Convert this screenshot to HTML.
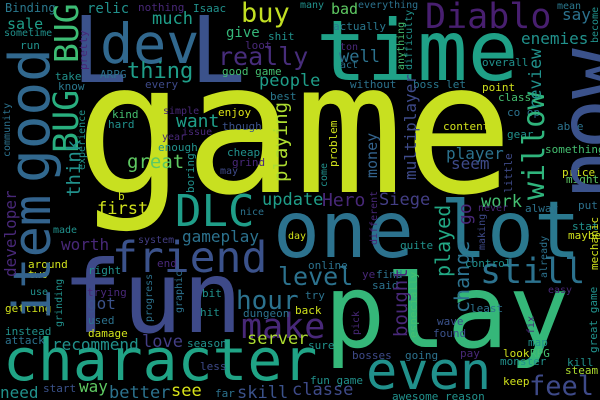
<!DOCTYPE html>
<html><head><meta charset="utf-8"><style>
html,body{margin:0;padding:0;background:#000;}
#cloud{position:relative;width:600px;height:400px;overflow:hidden;background:#000;}
#cloud span{position:absolute;line-height:1;white-space:nowrap;font-family:"DejaVu Sans Mono","Liberation Mono",monospace;}
#cloud span.v{transform:rotate(-90deg);transform-origin:0 0;}
</style></head><body>
<div id="cloud">
<span style="left:75px;top:38px;font-size:182px;color:#c8e020">game</span>
<span style="left:316px;top:9px;font-size:84px;color:#1fa187">time</span>
<span style="left:324px;top:262px;font-size:102px;color:#35b779">play</span>
<span style="left:62px;top:248px;font-size:100px;color:#3e4a89">fun</span>
<span style="left:273px;top:192px;font-size:78px;color:#2c728e">one</span>
<span style="left:440px;top:192px;font-size:78px;color:#2a788e">lot</span>
<span style="left:3px;top:331px;font-size:58px;color:#20a486">character</span>
<span style="left:366px;top:346px;font-size:52px;color:#21918c">even</span>
<span style="left:175px;top:190px;font-size:44px;color:#1f9e89">DLC</span>
<span style="left:112px;top:237px;font-size:43px;color:#3b528b">friend</span>
<span style="left:425px;top:0px;font-size:35px;color:#481f70">Diablo</span>
<span style="left:480px;top:255px;font-size:35px;color:#2c728e">still</span>
<span style="left:529px;top:373px;font-size:27px;color:#3e4a89">feel</span>
<span style="left:241px;top:310px;font-size:35px;color:#482878">make</span>
<span style="left:278px;top:264px;font-size:25px;color:#2c728e">level</span>
<span style="left:236px;top:288px;font-size:26px;color:#2c728e">hour</span>
<span style="left:100px;top:17px;font-size:55px;color:#31688e">dev</span>
<span style="left:72px;top:5px;font-size:92px;color:#3b528b">L</span>
<span style="left:190px;top:5px;font-size:92px;color:#3b528b">L</span>
<span style="left:218px;top:44px;font-size:25px;color:#472d7b">really</span>
<span style="left:127px;top:61px;font-size:22px;color:#1f9e89">thing</span>
<span style="left:241px;top:0px;font-size:27px;color:#c2df23">buy</span>
<span style="left:259px;top:73px;font-size:17px;color:#1f9e89">people</span>
<span style="left:152px;top:11px;font-size:17px;color:#1f9e89">much</span>
<span style="left:7px;top:17px;font-size:15px;color:#1f9e89">sale</span>
<span style="left:87px;top:2px;font-size:14px;color:#21918c">relic</span>
<span style="left:226px;top:26px;font-size:14px;color:#35b779">give</span>
<span style="left:176px;top:113px;font-size:18px;color:#1f9e89">want</span>
<span style="left:127px;top:153px;font-size:19px;color:#5ec962">great</span>
<span style="left:339px;top:49px;font-size:17px;color:#2c728e">well</span>
<span style="left:331px;top:2px;font-size:15px;color:#5ec962">bad</span>
<span style="left:521px;top:31px;font-size:16px;color:#21918c">enemies</span>
<span style="left:562px;top:7px;font-size:16px;color:#2c728e">say</span>
<span style="left:446px;top:146px;font-size:16px;color:#2c728e">player</span>
<span style="left:451px;top:156px;font-size:16px;color:#3e4a89">seem</span>
<span style="left:262px;top:192px;font-size:17px;color:#1f9e89">update</span>
<span style="left:322px;top:192px;font-size:18px;color:#482878">Hero</span>
<span style="left:379px;top:192px;font-size:17px;color:#433e85">Siege</span>
<span style="left:97px;top:201px;font-size:17px;color:#d0e11c">first</span>
<span style="left:481px;top:194px;font-size:17px;color:#44bf70">work</span>
<span style="left:182px;top:229px;font-size:16px;color:#2c728e">gameplay</span>
<span style="left:61px;top:237px;font-size:16px;color:#482878">worth</span>
<span style="left:87px;top:296px;font-size:16px;color:#3b528b">got</span>
<span style="left:52px;top:337px;font-size:16px;color:#21918c">recommend</span>
<span style="left:142px;top:334px;font-size:17px;color:#433e85">love</span>
<span style="left:247px;top:331px;font-size:17px;color:#addc30">server</span>
<span style="left:79px;top:379px;font-size:16px;color:#5ec962">way</span>
<span style="left:109px;top:385px;font-size:17px;color:#2c728e">better</span>
<span style="left:171px;top:383px;font-size:17px;color:#d8e219">see</span>
<span style="left:237px;top:385px;font-size:17px;color:#3b528b">skill</span>
<span style="left:292px;top:382px;font-size:17px;color:#3e4a89">classe</span>
<span style="left:0px;top:385px;font-size:16px;color:#21918c">need</span>

<span style="left:5px;top:2px;font-size:12px;color:#2a788e">Binding</span>
<span style="left:138px;top:2px;font-size:11px;color:#482878">nothing</span>
<span style="left:193px;top:3px;font-size:11px;color:#21918c">Isaac</span>
<span style="left:4px;top:29px;font-size:10px;color:#21918c">sometime</span>
<span style="left:20px;top:40px;font-size:11px;color:#21918c">run</span>
<span style="left:268px;top:31px;font-size:11px;color:#21918c">shit</span>
<span style="left:245px;top:40px;font-size:11px;color:#482878">loot</span>
<span style="left:55px;top:71px;font-size:11px;color:#21918c">take</span>
<span style="left:58px;top:81px;font-size:11px;color:#2a788e">know</span>
<span style="left:100px;top:69px;font-size:11px;color:#2c728e">ARPG</span>
<span style="left:145px;top:79px;font-size:11px;color:#3e4a89">every</span>
<span style="left:222px;top:66px;font-size:11px;color:#44bf70">good game</span>
<span style="left:270px;top:91px;font-size:11px;color:#2a788e">best</span>
<span style="left:112px;top:109px;font-size:11px;color:#44bf70">kind</span>
<span style="left:108px;top:119px;font-size:11px;color:#21918c">hard</span>
<span style="left:163px;top:107px;font-size:10px;color:#482878">simple</span>
<span style="left:218px;top:107px;font-size:11px;color:#dde318">enjoy</span>
<span style="left:222px;top:121px;font-size:11px;color:#3b528b">though</span>
<span style="left:182px;top:128px;font-size:10px;color:#482878">issue</span>
<span style="left:162px;top:133px;font-size:10px;color:#482878">year</span>
<span style="left:158px;top:142px;font-size:11px;color:#21918c">enough</span>
<span style="left:227px;top:147px;font-size:11px;color:#21918c">cheap</span>
<span style="left:232px;top:157px;font-size:11px;color:#482878">grind</span>
<span style="left:220px;top:167px;font-size:10px;color:#3e4a89">may</span>
<span style="left:118px;top:191px;font-size:11px;color:#d0e11c">b</span>
<span style="left:300px;top:1px;font-size:10px;color:#21918c">many</span>
<span style="left:358px;top:1px;font-size:10px;color:#2c728e">everything</span>
<span style="left:333px;top:21px;font-size:11px;color:#2a788e">actually</span>
<span style="left:340px;top:43px;font-size:10px;color:#482878">ton</span>
<span style="left:340px;top:61px;font-size:10px;color:#2c728e">act</span>
<span style="left:557px;top:2px;font-size:10px;color:#2a788e">mean</span>
<span style="left:350px;top:79px;font-size:11px;color:#2c728e">without</span>
<span style="left:413px;top:79px;font-size:11px;color:#2a788e">boss let</span>
<span style="left:482px;top:82px;font-size:11px;color:#d0e11c">point</span>
<span style="left:482px;top:57px;font-size:11px;color:#21918c">overall</span>
<span style="left:498px;top:92px;font-size:11px;color:#44bf70">class</span>
<span style="left:507px;top:107px;font-size:11px;color:#2c728e">co op</span>
<span style="left:443px;top:121px;font-size:11px;color:#d0e11c">content</span>
<span style="left:557px;top:121px;font-size:11px;color:#2c728e">able</span>
<span style="left:507px;top:129px;font-size:11px;color:#21918c">gear</span>
<span style="left:545px;top:144px;font-size:11px;color:#44bf70">something</span>
<span style="left:562px;top:167px;font-size:11px;color:#d0e11c">price</span>
<span style="left:566px;top:174px;font-size:11px;color:#5ec962">might</span>
<span style="left:478px;top:204px;font-size:10px;color:#482878">never</span>
<span style="left:240px;top:208px;font-size:10px;color:#2c728e">nice</span>
<span style="left:288px;top:232px;font-size:10px;color:#d0e11c">day</span>
<span style="left:138px;top:236px;font-size:10px;color:#433e85">system</span>
<span style="left:157px;top:258px;font-size:11px;color:#482878">end</span>
<span style="left:88px;top:265px;font-size:11px;color:#21918c">right</span>
<span style="left:308px;top:260px;font-size:11px;color:#2c728e">online</span>
<span style="left:28px;top:259px;font-size:11px;color:#d0e11c">around</span>
<span style="left:28px;top:269px;font-size:11px;color:#d0e11c">two</span>
<span style="left:53px;top:226px;font-size:10px;color:#21918c">made</span>
<span style="left:30px;top:288px;font-size:10px;color:#21918c">use</span>
<span style="left:87px;top:287px;font-size:11px;color:#482878">trying</span>
<span style="left:305px;top:290px;font-size:11px;color:#2c728e">try</span>
<span style="left:202px;top:288px;font-size:11px;color:#21918c">bit</span>
<span style="left:200px;top:307px;font-size:11px;color:#21918c">hit</span>
<span style="left:243px;top:308px;font-size:11px;color:#2c728e">dungeon</span>
<span style="left:295px;top:305px;font-size:11px;color:#d0e11c">back</span>
<span style="left:88px;top:315px;font-size:11px;color:#2c728e">used</span>
<span style="left:88px;top:328px;font-size:11px;color:#d0e11c">damage</span>
<span style="left:187px;top:338px;font-size:11px;color:#21918c">season</span>
<span style="left:308px;top:340px;font-size:11px;color:#21918c">sure</span>
<span style="left:5px;top:303px;font-size:11px;color:#d0e11c">getting</span>
<span style="left:5px;top:326px;font-size:11px;color:#21918c">instead</span>
<span style="left:5px;top:335px;font-size:11px;color:#2c728e">attack</span>
<span style="left:200px;top:361px;font-size:11px;color:#3e4a89">less</span>
<span style="left:310px;top:375px;font-size:11px;color:#21918c">fun game</span>
<span style="left:352px;top:350px;font-size:11px;color:#3e4a89">bosses</span>
<span style="left:405px;top:350px;font-size:11px;color:#2c728e">going</span>
<span style="left:215px;top:388px;font-size:11px;color:#2c728e">far</span>
<span style="left:43px;top:383px;font-size:11px;color:#3b528b">start</span>
<span style="left:465px;top:258px;font-size:11px;color:#21918c">control</span>
<span style="left:572px;top:221px;font-size:11px;color:#21918c">stat</span>
<span style="left:568px;top:230px;font-size:11px;color:#d0e11c">maybe</span>
<span style="left:578px;top:200px;font-size:11px;color:#2c728e">put</span>
<span style="left:525px;top:203px;font-size:11px;color:#2c728e">alway</span>
<span style="left:400px;top:240px;font-size:11px;color:#21918c">quite</span>
<span style="left:362px;top:269px;font-size:11px;color:#482878">ye</span>
<span style="left:376px;top:269px;font-size:11px;color:#2c728e">find</span>
<span style="left:372px;top:280px;font-size:11px;color:#2c728e">said</span>
<span style="left:548px;top:286px;font-size:10px;color:#482878">easy</span>
<span style="left:470px;top:303px;font-size:11px;color:#2c728e">least</span>
<span style="left:437px;top:316px;font-size:11px;color:#3b528b">wave</span>
<span style="left:433px;top:328px;font-size:11px;color:#3b528b">found</span>
<span style="left:528px;top:337px;font-size:11px;color:#21918c">map</span>
<span style="left:460px;top:348px;font-size:11px;color:#482878">pay</span>
<span style="left:503px;top:348px;font-size:11px;color:#d0e11c">look</span>
<span style="left:530px;top:348px;font-size:11px;color:#44bf70">RPG</span>
<span style="left:500px;top:356px;font-size:11px;color:#21918c">monster</span>
<span style="left:567px;top:357px;font-size:11px;color:#21918c">kill</span>
<span style="left:565px;top:365px;font-size:11px;color:#addc30">steam</span>
<span style="left:503px;top:376px;font-size:11px;color:#d0e11c">keep</span>
<span style="left:392px;top:391px;font-size:11px;color:#21918c">awesome reason</span>

<span class="v" style="left:50px;top:63px;font-size:33px;color:#3dbc74">BUG</span>
<span class="v" style="left:50px;top:153px;font-size:35px;color:#29af7f">BUG</span>
<span class="v" style="left:3px;top:183px;font-size:56px;color:#31688e">good</span>
<span class="v" style="left:7px;top:320px;font-size:52px;color:#33638d">item</span>
<span class="v" style="left:547px;top:200px;font-size:84px;color:#3b528b">now</span>
<span class="v" style="left:520px;top:200px;font-size:30px;color:#2fb47c">willow</span>
<span class="v" style="left:528px;top:110px;font-size:17px;color:#21918c">review</span>
<span class="v" style="left:78px;top:70px;font-size:11px;color:#482878">pretty</span>
<span class="v" style="left:272px;top:182px;font-size:19px;color:#addc30">playing</span>
<span class="v" style="left:65px;top:197px;font-size:19px;color:#21918c">think</span>
<span class="v" style="left:78px;top:170px;font-size:10px;color:#21918c">experience</span>
<span class="v" style="left:3px;top:157px;font-size:10px;color:#2c728e">community</span>
<span class="v" style="left:185px;top:193px;font-size:11px;color:#21918c">boring</span>
<span class="v" style="left:397px;top:70px;font-size:10px;color:#44bf70">anything</span>
<span class="v" style="left:405px;top:70px;font-size:10px;color:#21918c">difficulty</span>
<span class="v" style="left:591px;top:43px;font-size:10px;color:#21918c">become</span>
<span class="v" style="left:3px;top:277px;font-size:16px;color:#482878">developer</span>
<span class="v" style="left:433px;top:277px;font-size:20px;color:#22a884">played</span>
<span class="v" style="left:457px;top:225px;font-size:18px;color:#482878">go</span>
<span class="v" style="left:452px;top:313px;font-size:20px;color:#2c728e">change</span>
<span class="v" style="left:392px;top:337px;font-size:19px;color:#482878">bought</span>
<span class="v" style="left:408px;top:338px;font-size:11px;color:#44bf70">especially</span>
<span class="v" style="left:403px;top:180px;font-size:16px;color:#3e4a89">multiplayer</span>
<span class="v" style="left:365px;top:178px;font-size:15px;color:#33638d">money</span>
<span class="v" style="left:328px;top:167px;font-size:11px;color:#d0e11c">problem</span>
<span class="v" style="left:320px;top:187px;font-size:10px;color:#21918c">come</span>
<span class="v" style="left:503px;top:193px;font-size:11px;color:#3e4a89">little</span>
<span class="v" style="left:55px;top:327px;font-size:10px;color:#21918c">grinding</span>
<span class="v" style="left:145px;top:322px;font-size:10px;color:#2c728e">progress</span>
<span class="v" style="left:175px;top:313px;font-size:10px;color:#2c728e">graphic</span>
<span class="v" style="left:589px;top:270px;font-size:11px;color:#d0e11c">mechanic</span>
<span class="v" style="left:588px;top:353px;font-size:11px;color:#21918c">great game</span>
<span class="v" style="left:478px;top:250px;font-size:10px;color:#3e4a89">making</span>
<span class="v" style="left:540px;top:278px;font-size:10px;color:#2c728e">already</span>
<span class="v" style="left:370px;top:245px;font-size:10px;color:#482878">different</span>
<span class="v" style="left:352px;top:335px;font-size:10px;color:#482878">pick</span>
<span class="v" style="left:527px;top:334px;font-size:10px;color:#482878">fix</span>
</div>
</body></html>
